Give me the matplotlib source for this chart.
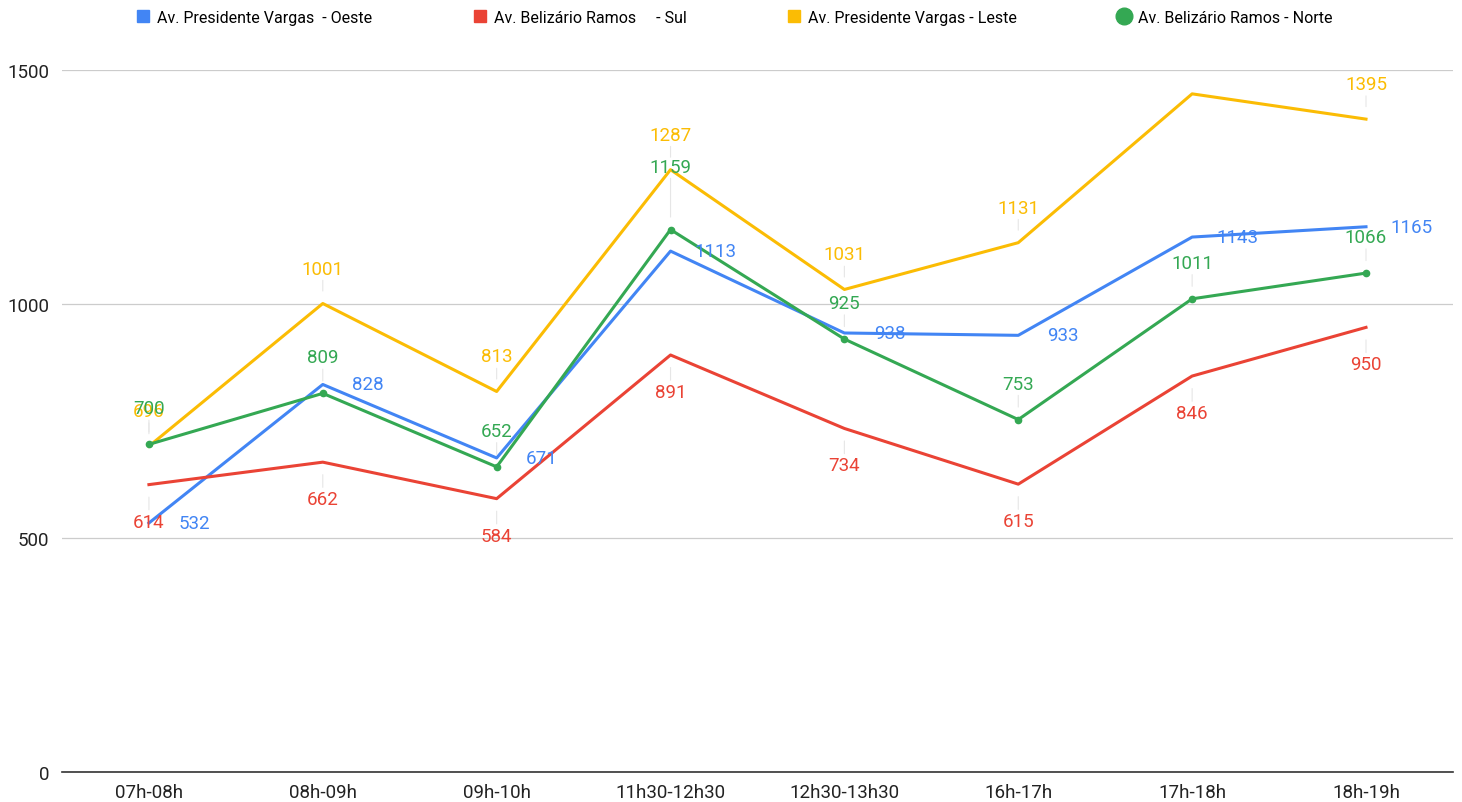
import matplotlib
matplotlib.use("Agg")
import matplotlib.pyplot as plt
from matplotlib.lines import Line2D

plt.rcParams['font.family'] = ['Roboto', 'DejaVu Sans']

horarios = ['07h-08h', '08h-09h', '09h-10h', '11h30-12h30', '12h30-13h30', '16h-17h', '17h-18h', '18h-19h']

vargas_oeste = [532, 828, 671, 1113, 938, 933, 1143, 1165]
belizario_sul = [614, 662, 584, 891, 734, 615, 846, 950]
vargas_leste = [696, 1001, 813, 1287, 1031, 1131, 1449, 1395]
belizario_norte = [700, 809, 652, 1159, 925, 753, 1011, 1066]

nomes = ['Av. Presidente Vargas  - Oeste', 'Av. Belizário Ramos     - Sul',
         'Av. Presidente Vargas - Leste', 'Av. Belizário Ramos - Norte']
cores = ['#4285F4', '#EA4335', '#FBBC04', '#34A853']

fig = plt.figure(figsize=(14.62, 8.03), dpi=100)
ax = fig.add_axes([0.0424, 0.0374, 0.9514, 0.8742])
x = list(range(len(horarios)))

ax.plot(x, vargas_oeste, color=cores[0], lw=2.2, zorder=3)
ax.plot(x, belizario_sul, color=cores[1], lw=2.2, zorder=3)
ax.plot(x, vargas_leste, color=cores[2], lw=2.2, zorder=3)
ax.plot(x, belizario_norte, color=cores[3], lw=2.2, zorder=4,
        marker='o', markersize=4.5)

fs = 13.5
stem = dict(arrowstyle='-', color='#e6e6e6', lw=0.8, shrinkA=0, shrinkB=9)

# blue labels sit to the right of the points
for xi, v in zip(x, vargas_oeste):
    ax.annotate(str(v), (xi, v), xytext=(45, 0), textcoords='offset pixels',
                ha='center', va='center', color=cores[0], fontsize=fs, zorder=6)

# red labels below
for xi, v in zip(x, belizario_sul):
    ax.annotate(str(v), (xi, v), xytext=(0, -37), textcoords='offset pixels',
                ha='center', va='center', color=cores[1], fontsize=fs,
                arrowprops=stem, zorder=6)

# yellow labels above (the 17h-18h one is hidden behind the frame)
for i, (xi, v) in enumerate(zip(x, vargas_leste)):
    if i == 6:
        continue
    ax.annotate(str(v), (xi, v), xytext=(0, 35), textcoords='offset pixels',
                ha='center', va='center', color=cores[2], fontsize=fs,
                arrowprops=stem, zorder=5)

# green labels above
green_off = [36, 36, 36, 63, 36, 36, 36, 36]
for xi, v, off in zip(x, belizario_norte, green_off):
    ax.annotate(str(v), (xi, v), xytext=(0, off), textcoords='offset pixels',
                ha='center', va='center', color=cores[3], fontsize=fs,
                arrowprops=stem, zorder=7)

ax.set_xlim(-0.5, len(horarios) - 0.5)
ax.set_ylim(0, 1500)
ax.set_yticks([0, 500, 1000, 1500])
ax.set_xticks(x)
ax.set_xticklabels(horarios)
ax.tick_params(axis='both', length=0, labelsize=13.5, colors='#222222')
ax.tick_params(axis='y', pad=9)
ax.tick_params(axis='x', pad=8)
ax.grid(axis='y', color='#cccccc', lw=0.9)
ax.set_axisbelow(True)
for s in ['top', 'right', 'left']:
    ax.spines[s].set_visible(False)
ax.spines['bottom'].set_color('#333333')
ax.spines['bottom'].set_linewidth(1.2)

handles = [
    Line2D([], [], marker='s', ls='', color=cores[0], markersize=8),
    Line2D([], [], marker='s', ls='', color=cores[1], markersize=8),
    Line2D([], [], marker='s', ls='', color=cores[2], markersize=8),
    Line2D([], [], marker='o', ls='', color=cores[3], markersize=12),
]
fig.legend(handles, nomes, loc='center', bbox_to_anchor=(0.502, 0.977), ncol=4,
           frameon=False, fontsize=11.5, handletextpad=0.4, columnspacing=6.2,
           handlelength=1.0)

fig.savefig('out.png', dpi=100, facecolor='white')
